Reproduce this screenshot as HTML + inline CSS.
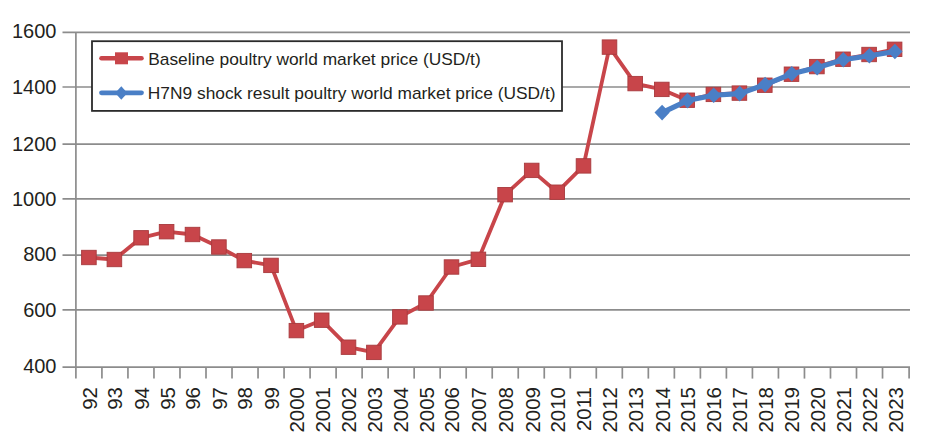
<!DOCTYPE html>
<html><head><meta charset="utf-8"><style>
html,body{margin:0;padding:0;background:#fff;width:934px;height:448px;overflow:hidden}
svg{display:block}
text{font-family:"Liberation Sans",sans-serif;fill:#231f20}
</style></head><body>
<svg width="934" height="448" viewBox="0 0 934 448">
<rect x="0" y="0" width="934" height="448" fill="#fff"/>

<line x1="62.5" y1="32.4" x2="910" y2="32.4" stroke="#8c8c8c" stroke-width="1.7"/>
<line x1="62.5" y1="87.0" x2="910" y2="87.0" stroke="#8c8c8c" stroke-width="1.7"/>
<line x1="62.5" y1="144.2" x2="910" y2="144.2" stroke="#8c8c8c" stroke-width="1.7"/>
<line x1="62.5" y1="198.9" x2="910" y2="198.9" stroke="#8c8c8c" stroke-width="1.7"/>
<line x1="62.5" y1="255.1" x2="910" y2="255.1" stroke="#8c8c8c" stroke-width="1.7"/>
<line x1="62.5" y1="309.8" x2="910" y2="309.8" stroke="#8c8c8c" stroke-width="1.7"/>
<line x1="62.5" y1="367.2" x2="910" y2="367.2" stroke="#8c8c8c" stroke-width="1.7"/>
<line x1="75.9" y1="32.4" x2="75.9" y2="378.6" stroke="#8c8c8c" stroke-width="1.7"/>
<line x1="101.92" y1="367.2" x2="101.92" y2="378.6" stroke="#8c8c8c" stroke-width="1.7"/>
<line x1="127.94" y1="367.2" x2="127.94" y2="378.6" stroke="#8c8c8c" stroke-width="1.7"/>
<line x1="153.96" y1="367.2" x2="153.96" y2="378.6" stroke="#8c8c8c" stroke-width="1.7"/>
<line x1="179.98" y1="367.2" x2="179.98" y2="378.6" stroke="#8c8c8c" stroke-width="1.7"/>
<line x1="206.00" y1="367.2" x2="206.00" y2="378.6" stroke="#8c8c8c" stroke-width="1.7"/>
<line x1="232.02" y1="367.2" x2="232.02" y2="378.6" stroke="#8c8c8c" stroke-width="1.7"/>
<line x1="258.04" y1="367.2" x2="258.04" y2="378.6" stroke="#8c8c8c" stroke-width="1.7"/>
<line x1="284.06" y1="367.2" x2="284.06" y2="378.6" stroke="#8c8c8c" stroke-width="1.7"/>
<line x1="310.08" y1="367.2" x2="310.08" y2="378.6" stroke="#8c8c8c" stroke-width="1.7"/>
<line x1="336.10" y1="367.2" x2="336.10" y2="378.6" stroke="#8c8c8c" stroke-width="1.7"/>
<line x1="362.12" y1="367.2" x2="362.12" y2="378.6" stroke="#8c8c8c" stroke-width="1.7"/>
<line x1="388.14" y1="367.2" x2="388.14" y2="378.6" stroke="#8c8c8c" stroke-width="1.7"/>
<line x1="414.16" y1="367.2" x2="414.16" y2="378.6" stroke="#8c8c8c" stroke-width="1.7"/>
<line x1="440.18" y1="367.2" x2="440.18" y2="378.6" stroke="#8c8c8c" stroke-width="1.7"/>
<line x1="466.20" y1="367.2" x2="466.20" y2="378.6" stroke="#8c8c8c" stroke-width="1.7"/>
<line x1="492.22" y1="367.2" x2="492.22" y2="378.6" stroke="#8c8c8c" stroke-width="1.7"/>
<line x1="518.24" y1="367.2" x2="518.24" y2="378.6" stroke="#8c8c8c" stroke-width="1.7"/>
<line x1="544.26" y1="367.2" x2="544.26" y2="378.6" stroke="#8c8c8c" stroke-width="1.7"/>
<line x1="570.28" y1="367.2" x2="570.28" y2="378.6" stroke="#8c8c8c" stroke-width="1.7"/>
<line x1="596.30" y1="367.2" x2="596.30" y2="378.6" stroke="#8c8c8c" stroke-width="1.7"/>
<line x1="622.32" y1="367.2" x2="622.32" y2="378.6" stroke="#8c8c8c" stroke-width="1.7"/>
<line x1="648.34" y1="367.2" x2="648.34" y2="378.6" stroke="#8c8c8c" stroke-width="1.7"/>
<line x1="674.36" y1="367.2" x2="674.36" y2="378.6" stroke="#8c8c8c" stroke-width="1.7"/>
<line x1="700.38" y1="367.2" x2="700.38" y2="378.6" stroke="#8c8c8c" stroke-width="1.7"/>
<line x1="726.40" y1="367.2" x2="726.40" y2="378.6" stroke="#8c8c8c" stroke-width="1.7"/>
<line x1="752.42" y1="367.2" x2="752.42" y2="378.6" stroke="#8c8c8c" stroke-width="1.7"/>
<line x1="778.44" y1="367.2" x2="778.44" y2="378.6" stroke="#8c8c8c" stroke-width="1.7"/>
<line x1="804.46" y1="367.2" x2="804.46" y2="378.6" stroke="#8c8c8c" stroke-width="1.7"/>
<line x1="830.48" y1="367.2" x2="830.48" y2="378.6" stroke="#8c8c8c" stroke-width="1.7"/>
<line x1="856.50" y1="367.2" x2="856.50" y2="378.6" stroke="#8c8c8c" stroke-width="1.7"/>
<line x1="882.52" y1="367.2" x2="882.52" y2="378.6" stroke="#8c8c8c" stroke-width="1.7"/>
<line x1="909.10" y1="367.2" x2="909.10" y2="378.6" stroke="#8c8c8c" stroke-width="1.7"/>
<text x="56.5" y="38.20" font-size="20" text-anchor="end">1600</text>
<text x="56.5" y="94.40" font-size="20" text-anchor="end">1400</text>
<text x="56.5" y="150.50" font-size="20" text-anchor="end">1200</text>
<text x="56.5" y="206.30" font-size="20" text-anchor="end">1000</text>
<text x="56.5" y="261.20" font-size="20" text-anchor="end">800</text>
<text x="56.5" y="317.10" font-size="20" text-anchor="end">600</text>
<text x="56.5" y="373.10" font-size="20" text-anchor="end">400</text>
<text transform="translate(96.80,387.0) rotate(-90)" font-size="20.5" text-anchor="end">92</text>
<text transform="translate(122.30,387.0) rotate(-90)" font-size="20.5" text-anchor="end">93</text>
<text transform="translate(149.00,387.0) rotate(-90)" font-size="20.5" text-anchor="end">94</text>
<text transform="translate(174.50,387.0) rotate(-90)" font-size="20.5" text-anchor="end">95</text>
<text transform="translate(200.40,387.0) rotate(-90)" font-size="20.5" text-anchor="end">96</text>
<text transform="translate(226.80,387.0) rotate(-90)" font-size="20.5" text-anchor="end">97</text>
<text transform="translate(252.20,387.0) rotate(-90)" font-size="20.5" text-anchor="end">98</text>
<text transform="translate(278.90,387.0) rotate(-90)" font-size="20.5" text-anchor="end">99</text>
<text transform="translate(304.30,387.0) rotate(-90)" font-size="20.5" text-anchor="end">2000</text>
<text transform="translate(329.60,387.0) rotate(-90)" font-size="20.5" text-anchor="end">2001</text>
<text transform="translate(356.40,387.0) rotate(-90)" font-size="20.5" text-anchor="end">2002</text>
<text transform="translate(381.80,387.0) rotate(-90)" font-size="20.5" text-anchor="end">2003</text>
<text transform="translate(407.80,387.0) rotate(-90)" font-size="20.5" text-anchor="end">2004</text>
<text transform="translate(433.90,387.0) rotate(-90)" font-size="20.5" text-anchor="end">2005</text>
<text transform="translate(459.40,387.0) rotate(-90)" font-size="20.5" text-anchor="end">2006</text>
<text transform="translate(486.30,387.0) rotate(-90)" font-size="20.5" text-anchor="end">2007</text>
<text transform="translate(513.00,387.0) rotate(-90)" font-size="20.5" text-anchor="end">2008</text>
<text transform="translate(539.60,387.0) rotate(-90)" font-size="20.5" text-anchor="end">2009</text>
<text transform="translate(565.10,387.0) rotate(-90)" font-size="20.5" text-anchor="end">2010</text>
<text transform="translate(591.40,387.0) rotate(-90)" font-size="20.5" text-anchor="end">2011</text>
<text transform="translate(617.40,387.0) rotate(-90)" font-size="20.5" text-anchor="end">2012</text>
<text transform="translate(643.10,387.0) rotate(-90)" font-size="20.5" text-anchor="end">2013</text>
<text transform="translate(669.70,387.0) rotate(-90)" font-size="20.5" text-anchor="end">2014</text>
<text transform="translate(695.10,387.0) rotate(-90)" font-size="20.5" text-anchor="end">2015</text>
<text transform="translate(721.30,387.0) rotate(-90)" font-size="20.5" text-anchor="end">2016</text>
<text transform="translate(747.30,387.0) rotate(-90)" font-size="20.5" text-anchor="end">2017</text>
<text transform="translate(772.70,387.0) rotate(-90)" font-size="20.5" text-anchor="end">2018</text>
<text transform="translate(799.40,387.0) rotate(-90)" font-size="20.5" text-anchor="end">2019</text>
<text transform="translate(824.80,387.0) rotate(-90)" font-size="20.5" text-anchor="end">2020</text>
<text transform="translate(850.90,387.0) rotate(-90)" font-size="20.5" text-anchor="end">2021</text>
<text transform="translate(877.00,387.0) rotate(-90)" font-size="20.5" text-anchor="end">2022</text>
<text transform="translate(902.50,387.0) rotate(-90)" font-size="20.5" text-anchor="end">2023</text>
<polyline points="88.9,257.5 114.4,259.5 141.1,237.8 166.6,231.7 192.5,234.5 218.9,247 244.3,260.6 271,265.4 296.4,330.6 321.7,320.2 348.5,347.2 373.9,352.4 399.9,316.9 426,303 451.5,267 478.4,259.3 505.1,194.7 531.7,170.4 557.2,192.2 583.5,165.9 609.5,47.1 635.2,83.6 661.8,89.4 687.2,100.2 713.4,94.4 739.4,93.1 764.8,85.2 791.5,74.2 816.9,66.6 843,59.2 869.1,54.5 894.6,49.3" fill="none" stroke="#C8454A" stroke-width="3.8" stroke-linejoin="round"/>
<rect x="81.60" y="250.30" width="14.6" height="14.4" fill="#C8454A" stroke="#A83A3D" stroke-width="0.9"/>
<rect x="107.10" y="252.30" width="14.6" height="14.4" fill="#C8454A" stroke="#A83A3D" stroke-width="0.9"/>
<rect x="133.80" y="230.60" width="14.6" height="14.4" fill="#C8454A" stroke="#A83A3D" stroke-width="0.9"/>
<rect x="159.30" y="224.50" width="14.6" height="14.4" fill="#C8454A" stroke="#A83A3D" stroke-width="0.9"/>
<rect x="185.20" y="227.30" width="14.6" height="14.4" fill="#C8454A" stroke="#A83A3D" stroke-width="0.9"/>
<rect x="211.60" y="239.80" width="14.6" height="14.4" fill="#C8454A" stroke="#A83A3D" stroke-width="0.9"/>
<rect x="237.00" y="253.40" width="14.6" height="14.4" fill="#C8454A" stroke="#A83A3D" stroke-width="0.9"/>
<rect x="263.70" y="258.20" width="14.6" height="14.4" fill="#C8454A" stroke="#A83A3D" stroke-width="0.9"/>
<rect x="289.10" y="323.40" width="14.6" height="14.4" fill="#C8454A" stroke="#A83A3D" stroke-width="0.9"/>
<rect x="314.40" y="313.00" width="14.6" height="14.4" fill="#C8454A" stroke="#A83A3D" stroke-width="0.9"/>
<rect x="341.20" y="340.00" width="14.6" height="14.4" fill="#C8454A" stroke="#A83A3D" stroke-width="0.9"/>
<rect x="366.60" y="345.20" width="14.6" height="14.4" fill="#C8454A" stroke="#A83A3D" stroke-width="0.9"/>
<rect x="392.60" y="309.70" width="14.6" height="14.4" fill="#C8454A" stroke="#A83A3D" stroke-width="0.9"/>
<rect x="418.70" y="295.80" width="14.6" height="14.4" fill="#C8454A" stroke="#A83A3D" stroke-width="0.9"/>
<rect x="444.20" y="259.80" width="14.6" height="14.4" fill="#C8454A" stroke="#A83A3D" stroke-width="0.9"/>
<rect x="471.10" y="252.10" width="14.6" height="14.4" fill="#C8454A" stroke="#A83A3D" stroke-width="0.9"/>
<rect x="497.80" y="187.50" width="14.6" height="14.4" fill="#C8454A" stroke="#A83A3D" stroke-width="0.9"/>
<rect x="524.40" y="163.20" width="14.6" height="14.4" fill="#C8454A" stroke="#A83A3D" stroke-width="0.9"/>
<rect x="549.90" y="185.00" width="14.6" height="14.4" fill="#C8454A" stroke="#A83A3D" stroke-width="0.9"/>
<rect x="576.20" y="158.70" width="14.6" height="14.4" fill="#C8454A" stroke="#A83A3D" stroke-width="0.9"/>
<rect x="602.20" y="39.90" width="14.6" height="14.4" fill="#C8454A" stroke="#A83A3D" stroke-width="0.9"/>
<rect x="627.90" y="76.40" width="14.6" height="14.4" fill="#C8454A" stroke="#A83A3D" stroke-width="0.9"/>
<rect x="654.50" y="82.20" width="14.6" height="14.4" fill="#C8454A" stroke="#A83A3D" stroke-width="0.9"/>
<rect x="679.90" y="93.00" width="14.6" height="14.4" fill="#C8454A" stroke="#A83A3D" stroke-width="0.9"/>
<rect x="706.10" y="87.20" width="14.6" height="14.4" fill="#C8454A" stroke="#A83A3D" stroke-width="0.9"/>
<rect x="732.10" y="85.90" width="14.6" height="14.4" fill="#C8454A" stroke="#A83A3D" stroke-width="0.9"/>
<rect x="757.50" y="78.00" width="14.6" height="14.4" fill="#C8454A" stroke="#A83A3D" stroke-width="0.9"/>
<rect x="784.20" y="67.00" width="14.6" height="14.4" fill="#C8454A" stroke="#A83A3D" stroke-width="0.9"/>
<rect x="809.60" y="59.40" width="14.6" height="14.4" fill="#C8454A" stroke="#A83A3D" stroke-width="0.9"/>
<rect x="835.70" y="52.00" width="14.6" height="14.4" fill="#C8454A" stroke="#A83A3D" stroke-width="0.9"/>
<rect x="861.80" y="47.30" width="14.6" height="14.4" fill="#C8454A" stroke="#A83A3D" stroke-width="0.9"/>
<rect x="887.30" y="42.10" width="14.6" height="14.4" fill="#C8454A" stroke="#A83A3D" stroke-width="0.9"/>
<polyline points="662.10,112.6 687.50,100.6 713.70,95.2 739.70,93.6 765.10,84.6 791.80,73.8 817.20,67.6 843.30,59.8 869.40,55.8 894.90,51.5" fill="none" stroke="#4A7FC6" stroke-width="5.1" stroke-linejoin="round"/>
<path d="M662.10,104.80 L669.70,112.60 L662.10,120.40 L654.50,112.60 Z" fill="#4A7FC6"/>
<path d="M687.50,92.80 L695.10,100.60 L687.50,108.40 L679.90,100.60 Z" fill="#4A7FC6"/>
<path d="M713.70,87.40 L721.30,95.20 L713.70,103.00 L706.10,95.20 Z" fill="#4A7FC6"/>
<path d="M739.70,85.80 L747.30,93.60 L739.70,101.40 L732.10,93.60 Z" fill="#4A7FC6"/>
<path d="M765.10,76.80 L772.70,84.60 L765.10,92.40 L757.50,84.60 Z" fill="#4A7FC6"/>
<path d="M791.80,66.00 L799.40,73.80 L791.80,81.60 L784.20,73.80 Z" fill="#4A7FC6"/>
<path d="M817.20,59.80 L824.80,67.60 L817.20,75.40 L809.60,67.60 Z" fill="#4A7FC6"/>
<path d="M843.30,52.00 L850.90,59.80 L843.30,67.60 L835.70,59.80 Z" fill="#4A7FC6"/>
<path d="M869.40,48.00 L877.00,55.80 L869.40,63.60 L861.80,55.80 Z" fill="#4A7FC6"/>
<path d="M894.90,43.70 L902.50,51.50 L894.90,59.30 L887.30,51.50 Z" fill="#4A7FC6"/>
<rect x="92" y="41.2" width="470" height="69.7" fill="#fff" stroke="#2b2b2b" stroke-width="1.8"/>
<line x1="101.5" y1="58.2" x2="141.5" y2="58.2" stroke="#C8454A" stroke-width="4.6" stroke-linecap="round"/>
<rect x="115" y="52.3" width="13" height="12" fill="#C8454A"/>
<text x="148.2" y="64.8" font-size="17.35">Baseline poultry world market price (USD/t)</text>
<line x1="101.5" y1="92.8" x2="141.5" y2="92.8" stroke="#4A7FC6" stroke-width="4.8" stroke-linecap="round"/>
<path d="M121.3,86.2 L127.4,93 L121.3,99.8 L115.2,93 Z" fill="#4A7FC6"/>
<text x="147.8" y="98.8" font-size="17.35">H7N9 shock result poultry world market price (USD/t)</text>
</svg></body></html>
